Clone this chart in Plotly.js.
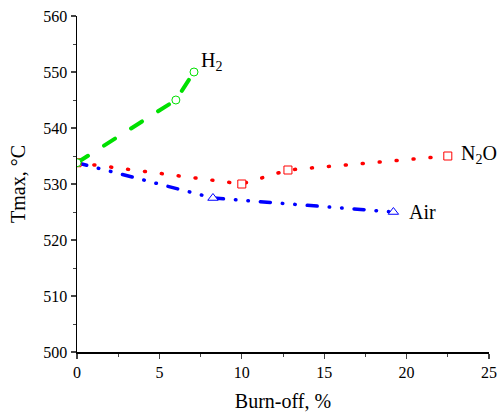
<!DOCTYPE html>
<html><head><meta charset="utf-8">
<script src="https://cdn.plot.ly/plotly-3.0.1.min.js"></script>
<style>html,body{margin:0;padding:0;background:#fff}
#chart .js-line{stroke-linecap:round !important}</style>
</head><body><div id="chart" style="width:503px;height:413px"></div>
<script>
const h2X = [0, 6.0, 7.1];
const h2Y = [533.8, 545, 550];
const n2oX = [0, 10.0, 12.8, 22.5];
const n2oY = [533.8, 530, 532.5, 535];
const airX = [0, 8.25, 19.2];
const airY = [533.8, 527.5, 525];
const labels = ['H<sub>2</sub>', 'N<sub>2</sub>O', 'Air'];

const font = 'Times New Roman, Liberation Serif, serif';
const traces = [
  {x: airX, y: airY, mode: 'lines+markers', line: {color: '#0000ff', width: 3.5, dash: '10px,12px,0.5px,12px,0.5px,12px'},
   marker: {symbol: 'triangle-up', size: 9, color: '#ffffff', line: {width: 1, color: '#0000ff'}}},
  {x: n2oX, y: n2oY, mode: 'lines+markers', line: {color: '#ff0000', width: 3.5, dash: '1px,16px'},
   marker: {symbol: 'square', size: 8, color: '#ffffff', line: {width: 1, color: '#ff0000'}}},
  {x: h2X, y: h2Y, mode: 'lines+markers', line: {color: '#00e000', width: 4, dash: '13px,19px'},
   marker: {symbol: 'circle', size: 8, color: '#ffffff', line: {width: 1, color: '#00e000'}}}
];
const layout = {
  width: 503, height: 413,
  margin: {l: 77, r: 14, t: 16, b: 61},
  showlegend: false,
  paper_bgcolor: '#fff', plot_bgcolor: '#fff',
  font: {family: font, color: '#000', size: 15},
  xaxis: {range: [0, 25], dtick: 5, ticks: 'outside', ticklen: 5, tickwidth: 1.3,
    showline: true, linewidth: 1.5, linecolor: '#000', showgrid: false, zeroline: false,
    minor: {dtick: 2.5, ticks: 'outside', ticklen: 3, tickwidth: 1, showgrid: false},
    tickfont: {family: font, size: 16},
    title: {text: 'Burn-off, %', font: {family: font, size: 20}, standoff: 14}},
  yaxis: {range: [500, 560], dtick: 10, ticks: 'outside', ticklen: 5, tickwidth: 1.3,
    showline: true, linewidth: 1.5, linecolor: '#000', showgrid: false, zeroline: false,
    minor: {dtick: 5, ticks: 'outside', ticklen: 3, tickwidth: 1, showgrid: false},
    tickfont: {family: font, size: 16},
    title: {text: 'Tmax, °C', font: {family: font, size: 20}, standoff: 12}},
  annotations: [
    {x: h2X[2], y: h2Y[2], text: labels[0], showarrow: false, xanchor: 'left', yanchor: 'bottom', xshift: 5, yshift: -4, font: {family: font, size: 20}},
    {x: n2oX[3], y: n2oY[3], text: labels[1], showarrow: false, xanchor: 'left', yanchor: 'middle', xshift: 11, yshift: 2, font: {family: font, size: 20}},
    {x: airX[2], y: airY[2], text: labels[2], showarrow: false, xanchor: 'left', yanchor: 'middle', xshift: 14, yshift: 0, font: {family: font, size: 20}}
  ]
};
Plotly.newPlot('chart', traces, layout, {displayModeBar: false, staticPlot: true});
</script></body></html>
